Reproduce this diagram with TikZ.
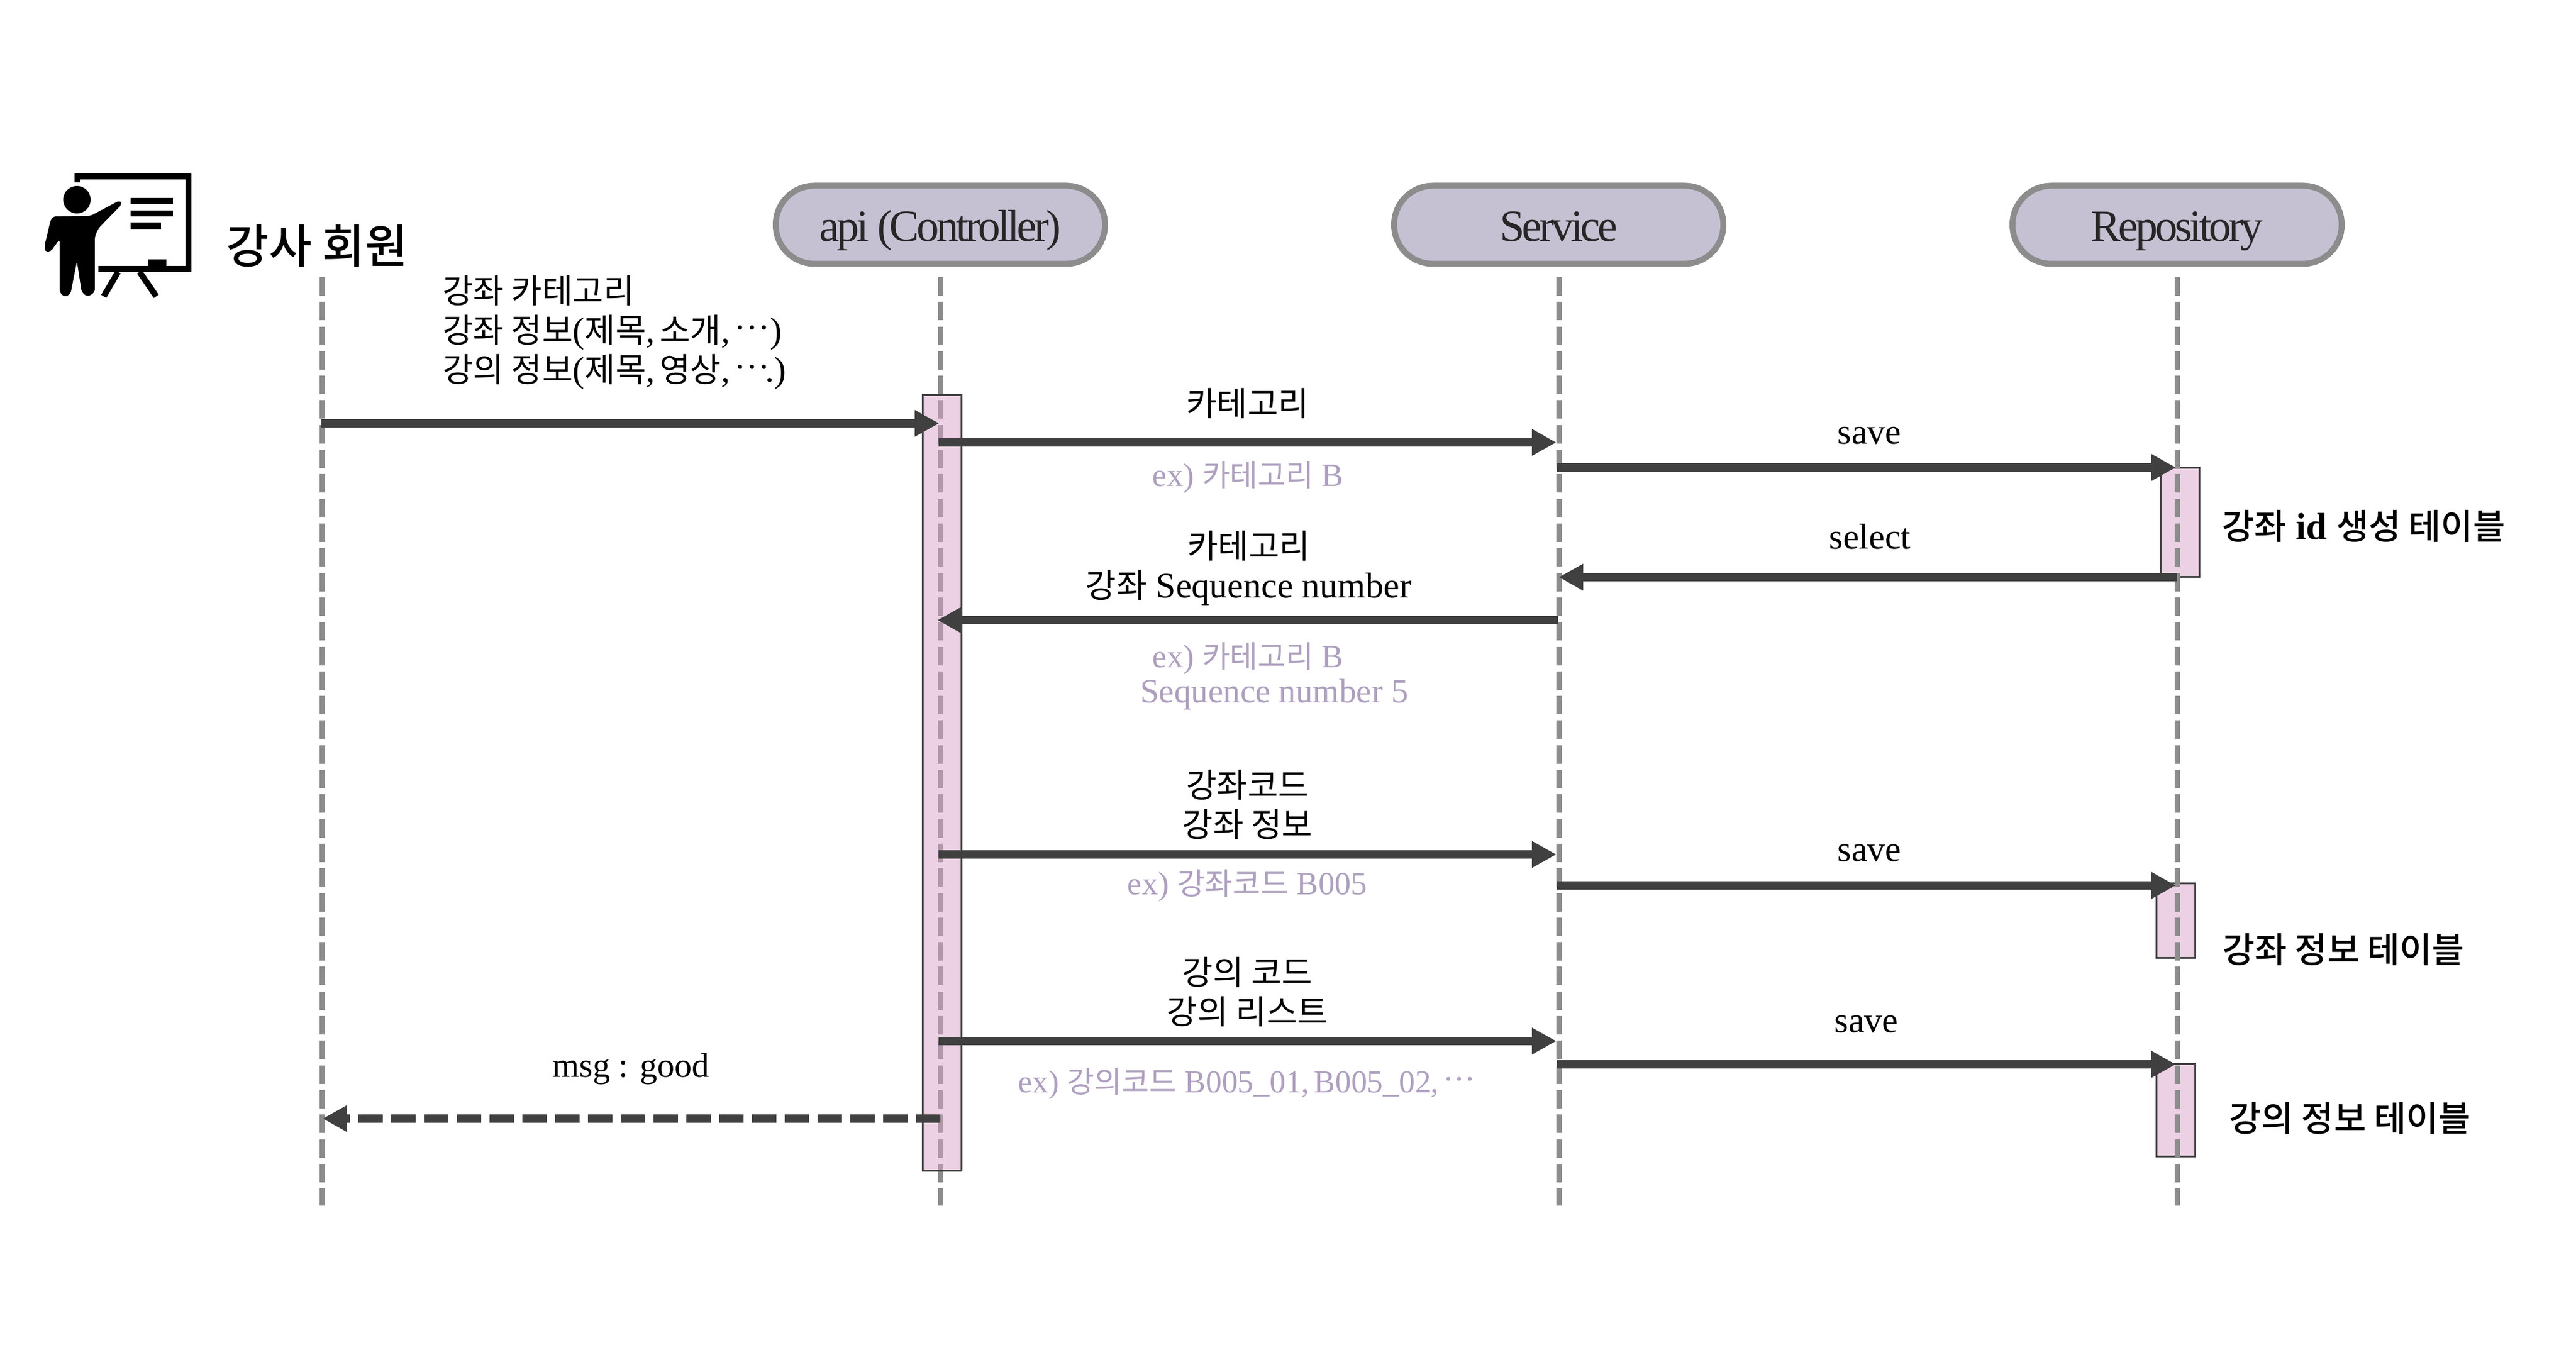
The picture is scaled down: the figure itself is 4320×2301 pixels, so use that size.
\documentclass[tikz,border=0pt]{standalone}
\usepackage{fontspec}
\setmainfont{Liberation Serif}
\newfontfamily\krfont[Scale=0.933,BoldFont={Noto Sans CJK KR Medium}]{Noto Sans CJK KR}
\newfontfamily\pillfont[LetterSpace=-6]{Liberation Serif}
\newcommand{\kr}[1]{{\krfont #1}}
\newcommand{\middots}{\raisebox{1pt}{···}}
\newcommand{\tightcomma}{,\hspace{1.5pt}}
\usetikzlibrary{arrows.meta}
\definecolor{darkline}{HTML}{404040}
\definecolor{greyline}{HTML}{8C8C8C}
\definecolor{pillfill}{HTML}{C6C0D3}
\definecolor{barfill}{HTML}{EBD1E3}
\definecolor{apibarfill}{HTML}{D7A3C7}
\definecolor{exgrey}{HTML}{AE9FBF}
\tikzset{
  lifeline/.style={greyline,line width=1.8pt,dash pattern=on 6.2pt off 2.06pt},
  msgline/.style={darkline,line width=2.8pt,-{Triangle[length=8.2pt,width=8.4pt]}},
  backline/.style={msgline,dash pattern=on 8.2pt off 2.8pt},
  pillbox/.style={draw=greyline,fill=pillfill,line width=2pt,rounded corners=13pt,minimum width=110.4pt,minimum height=26.2pt,inner sep=0pt,text=black!85,text height=12.5pt,text depth=1.3pt,font=\pillfont\fontsize{15}{16}\selectfont},
  actbar/.style={draw=darkline,line width=0.6pt,fill=barfill,minimum width=13pt,inner sep=0pt},
  msglabel/.style={inner sep=0pt,align=center,font=\fontsize{12}{13.2}\selectfont},
  exlabel/.style={inner sep=0pt,text=exgrey,font=\fontsize{10.9}{13.2}\selectfont},
  tablelabel/.style={inner sep=0pt,font=\bfseries\fontsize{12.6}{14}\selectfont}
}
\begin{document}
\begin{tikzpicture}[x=0.2pt,y=-0.2pt]
  \useasboundingbox (0,0) rectangle (4320,2301);

  \fill (125,290) rectangle (321,301);
  \fill (125,290) rectangle (134,306);
  \fill (311,290) rectangle (321,456);
  \fill (165,446) rectangle (321,456);
  \fill (248,435) rectangle (279,446);
  \fill (219,332) rectangle (290,342);
  \fill (219,353) rectangle (290,363);
  \fill (219,373) rectangle (270,384);
  \draw[line width=2pt] (198,456) -- (174,497);
  \draw[line width=2pt] (234,456) -- (262,497);
  \fill (129,335) circle (23);
  \fill[rounded corners=1pt] (89,363) -- (152,362) -- (201,336) -- (205,342) -- (165,383) -- (159,397)
        -- (159,490) -- (147,498) -- (137,490) -- (129,438) -- (118,494) -- (107,498) -- (100,490)
        -- (100,401) -- (85,422) -- (75,422) -- (75,411) -- (85,369) -- cycle;

  \node (actorName) at (532,412) [inner sep=0pt,font=\bfseries\fontsize{16.7}{18}\selectfont] {\kr{강사 회원}};
  \node (apiHead) at (1577,377) [pillbox] {api (Controller)};
  \node (serviceHead) at (2614,377) [pillbox] {Service};
  \node (repoHead) at (3651,377) [pillbox] {Repository};

  \node (repoBarA) at (3655.5,876.5) [actbar,minimum height=36.6pt] {};
  \node (repoBarB) at (3649,1544) [actbar,minimum height=25.1pt] {};
  \node (repoBarC) at (3649,1862) [actbar,minimum height=30.8pt] {};

  \coordinate (lifeA) at (540,465);   \coordinate (lifeAend) at (540,2022);
  \coordinate (lifeB) at (1577,465);  \coordinate (lifeBend) at (1577,2022);
  \coordinate (lifeC) at (2614,465);  \coordinate (lifeCend) at (2614,2022);
  \coordinate (lifeD) at (3651,465);  \coordinate (lifeDend) at (3651,2022);
  \draw[lifeline] (lifeA) -- (lifeAend);
  \draw[lifeline] (lifeB) -- (lifeBend);
  \draw[lifeline] (lifeC) -- (lifeCend);
  \draw[lifeline] (lifeD) -- (lifeDend);

  \node (apiBar) at (1579.5,1313) [actbar,fill=apibarfill,fill opacity=0.5,minimum height=260pt] {};

  \coordinate (m1a) at (539,710);   \coordinate (m1b) at (1575,710);
  \coordinate (m2a) at (1574,742);  \coordinate (m2b) at (2610,742);
  \coordinate (m3a) at (2611,784);  \coordinate (m3b) at (3649,784);
  \coordinate (m4a) at (3651,968);  \coordinate (m4b) at (2614,968);
  \coordinate (m5a) at (2613,1040); \coordinate (m5b) at (1572,1040);
  \coordinate (m6a) at (1574,1433); \coordinate (m6b) at (2610,1433);
  \coordinate (m7a) at (2611,1485); \coordinate (m7b) at (3649,1485);
  \coordinate (m8a) at (1574,1746); \coordinate (m8b) at (2610,1746);
  \coordinate (m9a) at (2611,1785); \coordinate (m9b) at (3649,1785);
  \coordinate (m10a) at (1577,1876); \coordinate (m10b) at (541,1876);
  \draw[msgline] (m1a) -- (m1b);
  \draw[msgline] (m2a) -- (m2b);
  \draw[msgline] (m3a) -- (m3b);
  \draw[msgline] (m4a) -- (m4b);
  \draw[msgline] (m5a) -- (m5b);
  \draw[msgline] (m6a) -- (m6b);
  \draw[msgline] (m7a) -- (m7b);
  \draw[msgline] (m8a) -- (m8b);
  \draw[msgline] (m9a) -- (m9b);
  \draw[backline] (m10a) -- (m10b);

  \node (sendLabel) at (741,558) [msglabel,anchor=west,align=left] {\kr{강좌 카테고리}\\\kr{강좌 정보}(\kr{제목}\tightcomma\kr{소개}\tightcomma\middots)\\\kr{강의 정보}(\kr{제목}\tightcomma\kr{영상}\tightcomma\middots\kern-1.5pt.)};
  \node (categoryLabel) at (2092,677) [msglabel] {\kr{카테고리}};
  \node (categoryEx) at (2093,800) [exlabel] {ex) \kr{카테고리} B};
  \node (saveLabelA) at (3135,745) [msglabel,anchor=base] {save};
  \node (selectLabel) at (3136,921) [msglabel,anchor=base] {select};
  \node (seqLabel) at (2094,953) [msglabel] {\kr{카테고리}\\\kr{강좌} Sequence number};
  \node (seqExA) at (2093,1104) [exlabel] {ex) \kr{카테고리} B};
  \node (seqExB) at (2137,1165) [exlabel,font=\fontsize{11.4}{13.2}\selectfont] {Sequence number 5};
  \node (codeLabel) at (2092,1350) [msglabel] {\kr{강좌코드}\\\kr{강좌 정보}};
  \node (codeEx) at (2092,1485) [exlabel] {ex) \kr{강좌코드} B005};
  \node (saveLabelB) at (3135,1445) [msglabel,anchor=base] {save};
  \node (lectureLabel) at (2092,1664) [msglabel] {\kr{강의 코드}\\\kr{강의 리스트}};
  \node (lectureEx) at (2091,1818) [exlabel,font=\fontsize{10.7}{13.2}\selectfont] {ex) \kr{강의코드} B005\_01\tightcomma B005\_02\tightcomma\middots};
  \node (saveLabelC) at (3130,1731) [msglabel,anchor=base] {save};
  \node (goodLabel) at (1058,1806) [msglabel,anchor=base,font=\fontsize{11.6}{13.2}\selectfont] {msg : good};

  \node (tableA) at (3964,883) [tablelabel] {\kr{강좌} id \kr{생성 테이블}};
  \node (tableB) at (3930,1593) [tablelabel] {\kr{강좌 정보 테이블}};
  \node (tableC) at (3941,1876) [tablelabel] {\kr{강의 정보 테이블}};
\end{tikzpicture}
\end{document}
